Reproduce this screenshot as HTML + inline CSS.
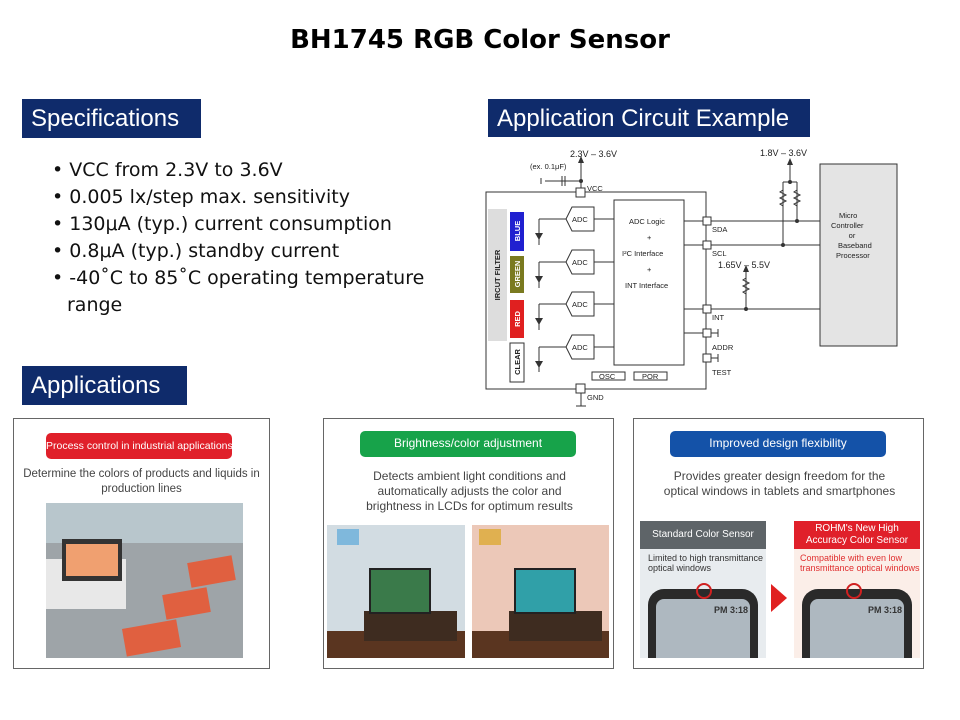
<!DOCTYPE html>
<html><head><meta charset="utf-8"><style>
body{margin:0;width:960px;height:720px;background:#fff;position:relative;overflow:hidden;font-family:"Liberation Sans",sans-serif}
.a{position:absolute}
.hdr{position:absolute;background:#0f2b6b;color:#fff;font-size:24px;padding-left:9px;line-height:39px;box-sizing:border-box;white-space:nowrap}
.bul{position:absolute;left:52px;top:157px;font-family:"DejaVu Sans",sans-serif;font-size:19px;line-height:27px;color:#111;width:390px}
.bul div{padding-left:15px;text-indent:-15px}
.panel{position:absolute;border:1px solid #666;box-sizing:border-box;background:#fff}
.pill{position:absolute;color:#fff;font-size:12px;text-align:center;border-radius:5px;white-space:nowrap}
.desc{position:absolute;font-size:12px;color:#444;text-align:center;line-height:15px;white-space:nowrap}
</style></head><body>
<div class="a" style="left:0;width:960px;top:25px;text-align:center;font-size:26px;font-weight:bold;font-family:'DejaVu Sans',sans-serif">BH1745 RGB Color Sensor</div>
<div class="hdr" style="left:22px;top:99px;width:179px;height:39px">Specifications</div>
<div class="hdr" style="left:488px;top:99px;width:322px;height:38px">Application Circuit Example</div>
<div class="hdr" style="left:22px;top:366px;width:165px;height:39px">Applications</div>
<div class="bul">
<div>• VCC from 2.3V to 3.6V</div>
<div>• 0.005 lx/step max. sensitivity</div>
<div>• 130μA (typ.) current consumption</div>
<div>• 0.8μA (typ.) standby current</div>
<div>• -40˚C to 85˚C operating temperature range</div>
</div>

<svg class="a" style="left:0;top:0" width="960" height="720" font-family="Liberation Sans,sans-serif" font-size="8" fill="#222">
<g stroke="#333" stroke-width="1" fill="none">
<rect x="486" y="192" width="220" height="197"/>
<rect x="614" y="200" width="70" height="165"/>
<rect x="820" y="164" width="77" height="182" fill="#e4e4e4"/>
<rect x="592" y="372" width="33" height="8"/><rect x="634" y="372" width="33" height="8"/>
<line x1="581" y1="163" x2="581" y2="192"/><line x1="545" y1="181" x2="581" y2="181"/>
<line x1="562" y1="176" x2="562" y2="186"/><line x1="565" y1="176" x2="565" y2="186"/>
<line x1="541" y1="178" x2="541" y2="184"/>
<line x1="581" y1="389" x2="581" y2="406"/><line x1="576" y1="406" x2="586" y2="406"/>
<line x1="684" y1="221" x2="820" y2="221"/><line x1="684" y1="245" x2="820" y2="245"/>
<line x1="684" y1="309" x2="820" y2="309"/><line x1="684" y1="333" x2="718" y2="333"/>
<line x1="707" y1="358" x2="718" y2="358"/>
<line x1="718" y1="329" x2="718" y2="337"/><line x1="718" y1="354" x2="718" y2="362"/>
<line x1="790" y1="165" x2="790" y2="182"/><line x1="783" y1="182" x2="797" y2="182"/>
<line x1="783" y1="182" x2="783" y2="245"/><line x1="797" y1="182" x2="797" y2="221"/>
<line x1="746" y1="272" x2="746" y2="309"/>
<line x1="594" y1="219" x2="614" y2="219"/><line x1="594" y1="262" x2="614" y2="262"/>
<line x1="594" y1="304" x2="614" y2="304"/><line x1="594" y1="347" x2="614" y2="347"/>
<line x1="539" y1="219" x2="566" y2="219"/><line x1="539" y1="262" x2="566" y2="262"/>
<line x1="539" y1="304" x2="566" y2="304"/><line x1="539" y1="347" x2="566" y2="347"/>
<line x1="539" y1="219" x2="539" y2="245"/><line x1="539" y1="262" x2="539" y2="288"/>
<line x1="539" y1="304" x2="539" y2="330"/><line x1="539" y1="347" x2="539" y2="372"/>
</g>
<g fill="#fff" stroke="#333">
<path d="M566 219 L572 207 L594 207 L594 231 L572 231 Z"/>
<path d="M566 262 L572 250 L594 250 L594 274 L572 274 Z"/>
<path d="M566 304 L572 292 L594 292 L594 316 L572 316 Z"/>
<path d="M566 347 L572 335 L594 335 L594 359 L572 359 Z"/>
<rect x="576" y="188" width="9" height="9"/><rect x="576" y="384" width="9" height="9"/>
<rect x="703" y="217" width="8" height="8"/><rect x="703" y="241" width="8" height="8"/>
<rect x="703" y="305" width="8" height="8"/><rect x="703" y="329" width="8" height="8"/>
<rect x="703" y="354" width="8" height="8"/>
</g>
<g fill="#333" stroke="none">
<circle cx="581" cy="181" r="2"/><circle cx="790" cy="182" r="2"/><circle cx="797" cy="221" r="2"/>
<circle cx="783" cy="245" r="2"/><circle cx="746" cy="309" r="2"/>
<path d="M578 163 L581 156 L584 163Z"/><path d="M787 165 L790 158 L793 165Z"/><path d="M743 272 L746 265 L749 272Z"/>
<path d="M535 233 L543 233 L539 240Z"/><path d="M535 276 L543 276 L539 283Z"/><path d="M535 318 L543 318 L539 325Z"/><path d="M535 361 L543 361 L539 368Z"/>
</g>
<g stroke="#333" fill="none">
<path d="M783 190 l-3 2 6 3 -6 3 6 3 -6 3 3 2"/><path d="M797 190 l-3 2 6 3 -6 3 6 3 -6 3 3 2"/>
<path d="M746 278 l-3 2 6 3 -6 3 6 3 -6 3 3 2"/>
</g>
<rect x="488" y="209" width="19" height="132" fill="#ddd"/>
<rect x="510" y="212" width="14" height="39" fill="#2020d0"/>
<rect x="510" y="256" width="14" height="37" fill="#7a7a20"/>
<rect x="510" y="300" width="14" height="38" fill="#e02020"/>
<rect x="510" y="343" width="14" height="39" fill="#fff" stroke="#333"/>
<g font-weight="bold" font-size="7.5" text-anchor="middle">
<text transform="translate(500,275) rotate(-90)" fill="#222">IRCUT FILTER</text>
<text transform="translate(520,231) rotate(-90)" fill="#fff">BLUE</text>
<text transform="translate(520,274) rotate(-90)" fill="#fff">GREEN</text>
<text transform="translate(520,319) rotate(-90)" fill="#fff">RED</text>
<text transform="translate(520,362) rotate(-90)" fill="#222">CLEAR</text>
</g>
<g font-size="7.5">
<text x="572" y="222">ADC</text><text x="572" y="265">ADC</text><text x="572" y="307">ADC</text><text x="572" y="350">ADC</text>
<text x="629" y="224">ADC Logic</text><text x="647" y="240">+</text><text x="622" y="256">I²C Interface</text>
<text x="647" y="272">+</text><text x="625" y="288">INT Interface</text>
<text x="599" y="379">OSC</text><text x="642" y="379">POR</text>
<text x="712" y="232">SDA</text><text x="712" y="256">SCL</text><text x="712" y="320">INT</text>
<text x="712" y="350">ADDR</text><text x="712" y="375">TEST</text>
<text x="587" y="191">VCC</text><text x="587" y="400">GND</text>
<text x="530" y="169">(ex. 0.1μF)</text>
<text x="839" y="218">Micro</text><text x="831" y="228">Controller</text><text x="852" y="238" text-anchor="middle">or</text>
<text x="838" y="248">Baseband</text><text x="836" y="258">Processor</text>
</g>
<g font-size="9">
<text x="570" y="157">2.3V – 3.6V</text><text x="760" y="156">1.8V – 3.6V</text><text x="718" y="268">1.65V – 5.5V</text>
</g>
</svg>

<div class="panel" style="left:13px;top:418px;width:257px;height:251px">
<div class="pill" style="left:32px;top:14px;width:186px;height:26px;line-height:26px;background:#e0202a;font-size:10.5px">Process control in industrial applications</div>
<div class="desc" style="left:5px;top:48px;width:245px;font-size:11.5px">Determine the colors of products and liquids in<br>production lines</div>
<div class="a" style="left:32px;top:84px;width:197px;height:155px;background:#9ea4a8"></div>
<div class="a" style="left:32px;top:84px;width:197px;height:40px;background:#b8c6cc"></div>
<div class="a" style="left:32px;top:140px;width:80px;height:50px;background:#e8e8e8"></div>
<div class="a" style="left:48px;top:120px;width:60px;height:42px;background:#333"></div>
<div class="a" style="left:52px;top:125px;width:52px;height:32px;background:#f0a070"></div>
<div class="a" style="left:175px;top:140px;width:45px;height:25px;background:#e06040;transform:rotate(-10deg)"></div>
<div class="a" style="left:150px;top:172px;width:45px;height:25px;background:#e06040;transform:rotate(-10deg)"></div>
<div class="a" style="left:110px;top:205px;width:55px;height:28px;background:#e06040;transform:rotate(-10deg)"></div>
</div>
<div class="panel" style="left:323px;top:418px;width:291px;height:251px">
<div class="pill" style="left:36px;top:12px;width:216px;height:26px;line-height:24px;background:#17a34a">Brightness/color adjustment</div>
<div class="desc" style="left:0;top:50px;width:291px">Detects ambient light conditions and<br>automatically adjusts the color and<br>brightness in LCDs for optimum results</div>
<div class="a" style="left:3px;top:106px;width:138px;height:133px;background:#d2dce2"></div>
<div class="a" style="left:3px;top:212px;width:138px;height:27px;background:#5a3520"></div>
<div class="a" style="left:148px;top:106px;width:137px;height:133px;background:#ecc8b8"></div>
<div class="a" style="left:148px;top:212px;width:137px;height:27px;background:#5a3520"></div>
<div class="a" style="left:13px;top:110px;width:22px;height:16px;background:#7fb8dc"></div>
<div class="a" style="left:155px;top:110px;width:22px;height:16px;background:#e0b050"></div>
<div class="a" style="left:40px;top:192px;width:93px;height:30px;background:#3e2c20"></div>
<div class="a" style="left:185px;top:192px;width:93px;height:30px;background:#3e2c20"></div>
<div class="a" style="left:45px;top:149px;width:58px;height:42px;background:#3a7a4a;border:2px solid #222"></div>
<div class="a" style="left:190px;top:149px;width:58px;height:42px;background:#30a0a8;border:2px solid #222"></div>
</div>
<div class="panel" style="left:633px;top:418px;width:291px;height:251px">
<div class="pill" style="left:36px;top:12px;width:216px;height:26px;line-height:25px;background:#1452a8">Improved design flexibility</div>
<div class="desc" style="left:0;top:50px;width:291px">Provides greater design freedom for the<br>optical windows in tablets and smartphones</div>
<div class="a" style="left:6px;top:102px;width:126px;height:137px;background:#e8ecef"></div>
<div class="a" style="left:6px;top:102px;width:126px;height:28px;background:#5e6468;color:#fff;font-size:10px;text-align:center;line-height:28px">Standard Color Sensor</div>
<div class="a" style="left:14px;top:134px;font-size:9px;color:#333;line-height:10px">Limited to high transmittance<br>optical windows</div>
<div class="a" style="left:160px;top:102px;width:126px;height:137px;background:#fbeee8"></div>
<div class="a" style="left:160px;top:102px;width:126px;height:28px;background:#e0202a;color:#fff;font-size:10px;text-align:center;line-height:12px;padding-top:2px;box-sizing:border-box">ROHM's New High<br>Accuracy Color Sensor</div>
<div class="a" style="left:166px;top:134px;font-size:9px;color:#e03030;line-height:10px">Compatible with even low<br>transmittance optical windows</div>
<div class="a" style="left:14px;top:170px;width:110px;height:69px;background:#2a2a2a;border-radius:16px 16px 0 0"></div>
<div class="a" style="left:22px;top:180px;width:94px;height:59px;background:#aeb8c0;border-radius:8px 8px 0 0"></div>
<div class="a" style="left:168px;top:170px;width:110px;height:69px;background:#2a2a2a;border-radius:16px 16px 0 0"></div>
<div class="a" style="left:176px;top:180px;width:94px;height:59px;background:#aeb8c0;border-radius:8px 8px 0 0"></div>
<div class="a" style="left:62px;top:164px;width:12px;height:12px;border:2px solid #d02020;border-radius:50%"></div>
<div class="a" style="left:212px;top:164px;width:12px;height:12px;border:2px solid #d02020;border-radius:50%"></div>
<div class="a" style="left:80px;top:186px;font-size:9px;font-weight:bold;color:#333">PM 3:18</div>
<div class="a" style="left:234px;top:186px;font-size:9px;font-weight:bold;color:#333">PM 3:18</div>
<div class="a" style="left:137px;top:165px;width:0;height:0;border-left:16px solid #e02020;border-top:14px solid transparent;border-bottom:14px solid transparent"></div>
</div>
</body></html>
